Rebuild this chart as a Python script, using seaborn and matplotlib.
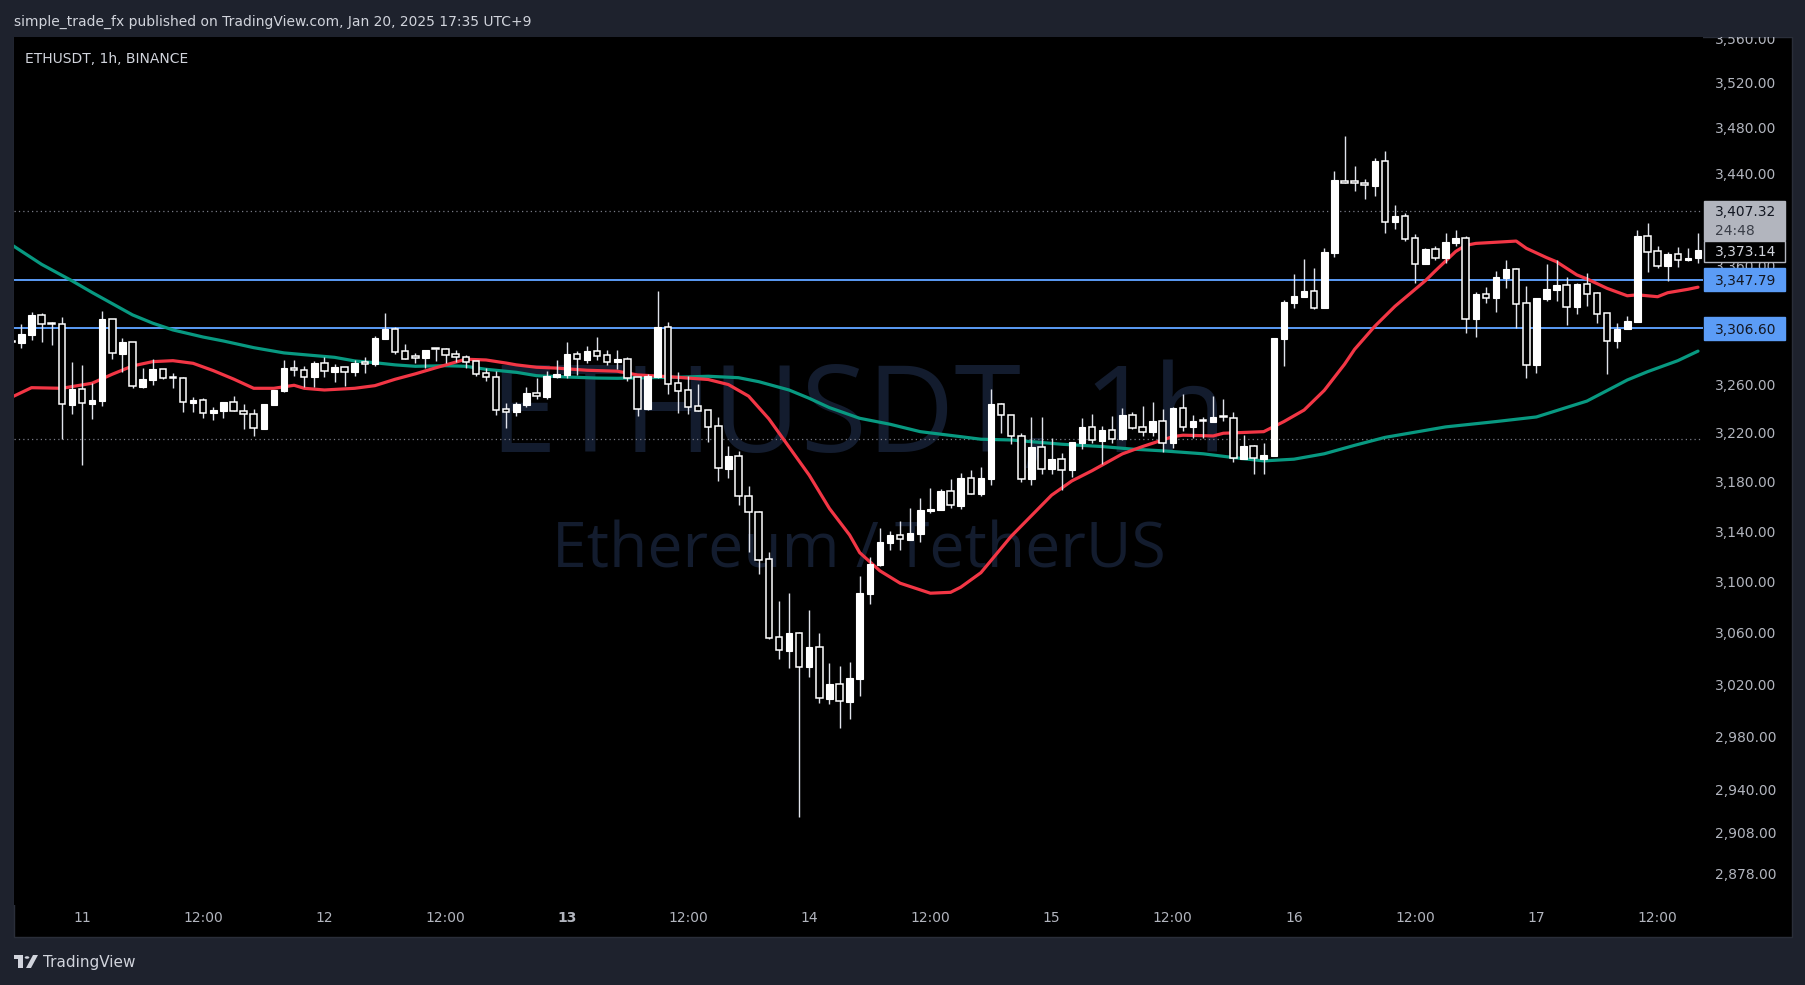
import numpy as np
import matplotlib
matplotlib.use("Agg")
import matplotlib.pyplot as plt
import matplotlib.transforms as mtrans
from matplotlib.patches import Rectangle, Polygon, Circle
from matplotlib.ticker import NullLocator, NullFormatter
import seaborn as sns

# ETHUSDT 1h candles, hour 0 = Jan 11 00:00
hours = np.arange(-7, 161)
opens = [3295.5, 3294.6, 3301.1, 3317.9, 3311.4, 3310.1, 3242.9, 3255.9, 3243.7, 3246.2,
         3314.3, 3285.4, 3295.0, 3257.6, 3263.7, 3272.3, 3265.5, 3264.8, 3244.6, 3246.6,
         3235.9, 3238.0, 3244.9, 3237.5, 3235.3, 3223.2, 3242.9, 3254.5, 3273.4, 3271.5,
         3266.1, 3277.3, 3270.3, 3274.0, 3270.3, 3277.3, 3276.8, 3298.0, 3306.1, 3287.4,
         3282.0, 3282.0, 3289.1, 3289.1, 3285.1, 3282.3, 3279.1, 3269.2, 3265.7, 3239.1,
         3237.2, 3242.7, 3252.6, 3249.3, 3266.1, 3267.6, 3285.1, 3280.1, 3287.4, 3284.3,
         3278.7, 3280.7, 3265.7, 3239.6, 3266.1, 3307.8, 3260.9, 3255.1, 3241.6, 3238.3,
         3225.1, 3190.5, 3200.6, 3168.1, 3155.2, 3117.7, 3056.3, 3045.9, 3059.4, 3033.5,
         3048.5, 3008.8, 3020.1, 3006.5, 3024.2, 3090.5, 3113.4, 3130.9, 3136.8, 3133.2,
         3138.0, 3156.5, 3157.3, 3172.2, 3160.5, 3182.9, 3170.2, 3182.4, 3243.3, 3234.4,
         3216.9, 3182.4, 3208.2, 3190.5, 3198.4, 3189.5, 3211.7, 3224.6, 3213.3, 3222.1,
         3214.5, 3234.4, 3224.6, 3220.5, 3229.5, 3211.7, 3240.2, 3224.8, 3229.5, 3228.9,
         3232.8, 3231.7, 3198.4, 3208.8, 3198.6, 3201.1, 3298.0, 3328.3, 3333.4, 3338.0,
         3324.1, 3371.0, 3433.1, 3433.1, 3431.3, 3429.0, 3450.7, 3397.7, 3402.4, 3383.6,
         3361.6, 3374.1, 3366.8, 3379.6, 3383.6, 3314.5, 3335.7, 3332.3, 3349.3, 3357.1,
         3328.1, 3276.0, 3331.4, 3339.1, 3343.4, 3324.7, 3344.2, 3336.5, 3319.6, 3296.3,
         3306.1, 3312.3, 3385.3, 3372.5, 3359.9, 3369.9, 3365.0, 3366.3]
highs = [3297.0, 3310.3, 3320.5, 3319.9, 3312.3, 3316.2, 3278.7, 3276.0, 3260.7, 3321.3,
         3314.5, 3298.3, 3295.0, 3273.7, 3280.7, 3272.3, 3269.0, 3266.1, 3249.5, 3248.2,
         3241.3, 3244.9, 3250.1, 3243.7, 3239.4, 3243.5, 3255.1, 3280.1, 3280.1, 3275.1,
         3279.3, 3282.9, 3276.8, 3274.5, 3280.1, 3282.6, 3300.3, 3319.3, 3307.8, 3293.5,
         3286.0, 3288.5, 3289.3, 3290.2, 3288.5, 3284.3, 3279.5, 3273.2, 3270.9, 3244.1,
         3245.2, 3257.6, 3265.0, 3270.9, 3280.1, 3295.2, 3287.4, 3291.8, 3299.4, 3288.5,
         3288.5, 3282.6, 3265.7, 3268.4, 3338.2, 3311.8, 3270.1, 3266.7, 3260.1, 3238.3,
         3232.8, 3209.0, 3205.0, 3176.4, 3156.3, 3123.7, 3084.7, 3090.8, 3060.2, 3077.6,
         3059.6, 3036.4, 3034.0, 3037.2, 3104.2, 3119.2, 3142.4, 3140.2, 3148.2, 3158.4,
         3166.5, 3174.6, 3173.8, 3182.1, 3186.7, 3189.5, 3192.2, 3255.9, 3244.1, 3234.6,
         3219.4, 3232.8, 3232.8, 3215.3, 3203.6, 3212.3, 3232.0, 3235.3, 3225.4, 3233.8,
         3240.2, 3237.0, 3241.9, 3245.2, 3239.4, 3241.3, 3251.8, 3234.4, 3233.0, 3250.1,
         3247.6, 3237.0, 3218.0, 3209.8, 3211.5, 3298.3, 3330.3, 3352.8, 3365.6, 3357.9,
         3375.0, 3441.9, 3473.0, 3446.3, 3434.9, 3453.3, 3459.5, 3412.2, 3405.0, 3387.1,
         3375.0, 3377.0, 3388.0, 3390.5, 3385.3, 3337.4, 3341.7, 3355.4, 3364.8, 3357.9,
         3342.5, 3332.5, 3361.6, 3364.8, 3350.2, 3345.0, 3353.7, 3337.4, 3320.0, 3311.2,
         3317.1, 3390.5, 3396.6, 3376.7, 3371.6, 3375.8, 3375.0, 3388.0]
lows = [3294.0, 3290.4, 3296.9, 3295.5, 3292.7, 3214.5, 3235.3, 3193.5, 3231.1, 3241.9,
        3280.9, 3270.3, 3257.0, 3257.0, 3259.3, 3264.0, 3257.0, 3236.7, 3237.2, 3231.7,
        3230.1, 3232.2, 3237.7, 3222.7, 3217.4, 3223.2, 3242.9, 3253.7, 3267.0, 3257.8,
        3257.8, 3266.1, 3261.5, 3258.4, 3267.0, 3269.5, 3275.3, 3298.0, 3285.1, 3281.2,
        3277.6, 3273.7, 3279.3, 3277.6, 3278.7, 3273.7, 3267.0, 3262.6, 3234.4, 3224.0,
        3233.8, 3241.3, 3247.6, 3247.4, 3265.3, 3265.3, 3267.6, 3277.8, 3280.1, 3276.0,
        3272.6, 3262.8, 3233.8, 3238.6, 3265.3, 3252.0, 3236.4, 3235.6, 3238.0, 3212.5,
        3180.7, 3183.2, 3161.1, 3123.7, 3106.3, 3055.0, 3039.5, 3032.7, 2919.8, 3025.8,
        3005.3, 3004.7, 2986.3, 2993.1, 3011.1, 3082.4, 3112.4, 3125.3, 3125.3, 3133.2,
        3131.6, 3154.9, 3157.3, 3158.9, 3157.8, 3170.2, 3168.6, 3177.5, 3219.9, 3210.4,
        3180.0, 3177.5, 3186.4, 3186.4, 3173.2, 3184.0, 3206.5, 3211.7, 3194.3, 3211.7,
        3213.7, 3222.7, 3217.4, 3217.4, 3204.4, 3207.5, 3221.5, 3215.3, 3215.3, 3228.9,
        3229.5, 3196.2, 3198.4, 3185.9, 3186.4, 3201.1, 3275.3, 3324.1, 3333.4, 3323.2,
        3324.1, 3367.6, 3431.0, 3424.4, 3417.5, 3420.1, 3388.1, 3391.5, 3381.3, 3345.3,
        3361.6, 3364.8, 3362.0, 3376.7, 3303.0, 3299.4, 3328.1, 3320.5, 3340.8, 3307.0,
        3265.3, 3269.2, 3329.7, 3329.7, 3309.7, 3318.8, 3325.5, 3311.2, 3268.4, 3290.2,
        3306.1, 3312.3, 3354.5, 3358.2, 3347.0, 3359.0, 3364.2, 3362.2]
closes = [3295.0, 3301.9, 3317.9, 3310.6, 3310.1, 3243.3, 3255.9, 3244.1, 3246.8, 3314.5,
          3285.7, 3295.2, 3258.7, 3264.2, 3272.6, 3265.3, 3265.0, 3244.9, 3246.8, 3235.9,
          3238.6, 3244.9, 3237.7, 3235.0, 3223.5, 3243.5, 3255.1, 3273.4, 3271.5, 3266.1,
          3277.3, 3270.7, 3274.0, 3270.3, 3277.3, 3277.0, 3298.6, 3306.1, 3287.1, 3281.2,
          3281.8, 3288.5, 3289.0, 3284.5, 3282.3, 3278.7, 3268.7, 3265.7, 3238.8, 3237.2,
          3243.5, 3252.6, 3249.9, 3266.7, 3268.4, 3285.1, 3280.7, 3287.7, 3283.7, 3278.7,
          3280.9, 3265.3, 3239.6, 3266.7, 3307.8, 3260.4, 3254.5, 3241.3, 3238.0, 3224.8,
          3190.8, 3200.9, 3168.1, 3155.2, 3117.3, 3056.0, 3046.2, 3059.4, 3033.5, 3048.5,
          3009.1, 3020.1, 3006.8, 3024.5, 3090.8, 3113.9, 3131.4, 3137.0, 3133.6, 3138.6,
          3157.0, 3157.6, 3172.4, 3160.8, 3182.9, 3170.2, 3182.9, 3243.5, 3234.2, 3216.9,
          3182.4, 3208.2, 3190.5, 3198.4, 3189.7, 3212.3, 3224.6, 3213.7, 3222.1, 3214.7,
          3234.4, 3224.0, 3220.7, 3229.5, 3211.7, 3240.2, 3224.8, 3229.5, 3229.2, 3232.8,
          3232.6, 3199.0, 3208.8, 3199.0, 3201.4, 3298.3, 3328.7, 3333.7, 3338.0, 3324.1,
          3371.6, 3434.0, 3431.6, 3431.1, 3429.4, 3450.7, 3397.7, 3402.7, 3383.0, 3361.6,
          3374.1, 3366.8, 3380.2, 3383.6, 3314.8, 3335.7, 3332.5, 3350.2, 3357.1, 3327.5,
          3276.2, 3332.3, 3339.9, 3343.4, 3324.9, 3344.2, 3335.9, 3319.0, 3296.3, 3306.4,
          3312.9, 3385.3, 3371.9, 3359.9, 3369.9, 3365.0, 3366.3, 3373.14]

# moving averages
fast_ma_hours = [-7, -5, -2, 1, 3, 5, 7, 9, 11, 13, 15, 17, 19, 21, 22, 24, 27, 29, 31, 33,
                 35, 37, 38, 40, 42, 43, 45, 47, 50, 53, 55, 58, 62, 64, 66, 68, 70, 72, 74, 76,
                 77, 79, 81, 84, 86, 87, 89, 92, 96, 98, 100, 103, 105, 108, 109, 112, 113, 117,
                 119, 121, 123, 125, 126, 128, 130, 133, 134, 136, 137, 138, 142, 143, 145, 146,
                 148, 149, 151, 153, 154, 156, 157, 159, 160]
fast_ma = [3249.0, 3257.0, 3256.5, 3260.7, 3268.2, 3275.1, 3278.7, 3279.5, 3277.3, 3271.2,
           3264.2, 3256.5, 3256.5, 3259.0, 3256.5, 3255.1, 3256.5, 3258.7, 3264.0, 3268.5,
           3273.5, 3278.3, 3280.7, 3280.1, 3277.5, 3276.0, 3274.0, 3273.3, 3271.5, 3270.7,
           3267.6, 3266.2, 3263.8, 3259.6, 3250.0, 3231.3, 3208.2, 3185.2, 3158.3, 3137.0,
           3122.9, 3108.5, 3098.7, 3090.8, 3091.5, 3095.5, 3107.0, 3136.0, 3169.0, 3180.5,
           3188.8, 3202.5, 3208.5, 3216.6, 3217.8, 3217.2, 3219.4, 3220.7, 3229.0, 3238.5,
           3254.8, 3276.5, 3289.0, 3308.4, 3325.3, 3347.0, 3355.5, 3372.0, 3377.3, 3379.0,
           3381.0, 3374.8, 3366.8, 3363.2, 3352.0, 3348.6, 3340.5, 3334.2, 3335.0, 3333.4,
           3336.8, 3339.7, 3341.5]
slow_ma_hours = [-7, -4, -1, 1, 3, 5, 7, 9, 12, 14, 17, 20, 22, 25, 27, 29, 31, 33, 36, 38,
                 40, 43, 45, 48, 51, 53, 56, 59, 62, 65, 67, 70, 72, 74, 77, 80, 83, 87, 89, 92,
                 94, 97, 101, 104, 107, 111, 114, 117, 120, 123, 126, 129, 135, 140, 144, 149,
                 152, 153, 155, 158, 160]
slow_ma = [3378.0, 3361.0, 3347.0, 3337.0, 3327.5, 3318.0, 3311.0, 3305.3, 3299.3, 3296.0,
           3290.4, 3286.0, 3284.5, 3282.3, 3279.3, 3277.8, 3276.0, 3274.8, 3275.3, 3274.8,
           3272.3, 3269.8, 3267.0, 3265.9, 3265.0, 3264.8, 3265.3, 3265.7, 3266.5, 3265.3,
           3262.0, 3255.1, 3248.2, 3240.5, 3231.7, 3226.8, 3220.7, 3216.6, 3214.5, 3213.9,
           3212.5, 3210.4, 3208.5, 3206.4, 3205.0, 3202.6, 3199.5, 3196.8, 3198.2, 3202.6,
           3209.5, 3216.0, 3224.6, 3229.0, 3232.8, 3245.9, 3259.0, 3263.4, 3270.3, 3279.5,
           3287.5]

level_lines = [3347.79, 3306.60]
dotted_levels = [3407.32, 3214.6]
last_price = 3373.14
price_ticks = [2878, 2908, 2940, 2980, 3020, 3060, 3100, 3140, 3180, 3220, 3260,
               3360, 3440, 3480, 3520, 3560]
time_tick_hours = [0, 12, 24, 36, 48, 60, 72, 84, 96, 108, 120, 132, 144, 156]
time_tick_labels = ["11", "12:00", "12", "12:00", "13", "12:00", "14", "12:00",
                    "15", "12:00", "16", "12:00", "17", "12:00"]

BG = "#1e222d"
TXT = "#b2b5be"
RED = "#f23645"
GREEN = "#089981"
BLUE = "#5b9cf6"
WM = "#131c2e"

sns.set_theme(style="dark", rc={"axes.facecolor": "black", "figure.facecolor": BG})
plt.rcParams["font.family"] = ["DejaVu Sans"]

W, H = 1806, 985
fig = plt.figure(figsize=(W / 100, H / 100), dpi=100)


def fx(px):
    return px / W


def fy(py):
    return 1 - py / H


# black chart panel
fig.add_artist(Rectangle((fx(14), fy(937)), fx(1792) - fx(14), fy(37) - fy(937),
                         transform=fig.transFigure, facecolor="black",
                         edgecolor="#2a2e39", lw=1, zorder=-1))

ax = fig.add_axes([fx(14), fy(905), fx(1703) - fx(14), fy(37) - fy(905)])
ax.set_facecolor("black")
for s in ax.spines.values():
    s.set_visible(False)
ax.grid(False)
ax.set_yscale("log")
ymin, ymax = 2854.7, 3561.5
ax.set_xlim(-6.733, 160.495)
ax.set_ylim(ymin, ymax)

# watermark
ax.text(0.5, 0.522, "ETHUSDT, 1h", transform=ax.transAxes, ha="center", va="baseline",
        fontsize=87, family="Open Sans", color=WM, zorder=0.2)
ax.text(0.5, 0.389, "Ethereum / TetherUS", transform=ax.transAxes, ha="center",
        va="baseline", fontsize=45, family="Open Sans", color=WM, zorder=0.2)

for p in dotted_levels:
    ax.axhline(p, color="#787b86", lw=0.9, ls=(0, (1, 2.5)), zorder=1)
for p in level_lines:
    ax.axhline(p, color=BLUE, lw=1.4, zorder=2)

sns.lineplot(x=slow_ma_hours, y=slow_ma, ax=ax, color=GREEN, linewidth=2.3,
             zorder=3, legend=False)
sns.lineplot(x=fast_ma_hours, y=fast_ma, ax=ax, color=RED, linewidth=2.3,
             zorder=3, legend=False)

# candles
o = np.array(opens)
h = np.array(highs)
l = np.array(lows)
c = np.array(closes)
up = c >= o
body_lo = np.minimum(o, c)
body_h = np.maximum(np.abs(c - o), 1.3)
ax.vlines(hours, l, h, color="#e0e3eb", lw=1.0, zorder=4)
ax.bar(hours[up], body_h[up], bottom=body_lo[up], width=0.64, color="white",
       edgecolor="white", lw=0.8, zorder=5)
ax.bar(hours[~up], body_h[~up], bottom=body_lo[~up], width=0.64, color="black",
       edgecolor="white", lw=1.1, zorder=5)

ax.set_xlabel("")
ax.set_ylabel("")

# axes ticks
ax.yaxis.tick_right()
ax.yaxis.set_minor_locator(NullLocator())
ax.yaxis.set_minor_formatter(NullFormatter())
ax.set_yticks(price_ticks)
ax.set_yticklabels([f"{v:,.2f}" for v in price_ticks])
ax.tick_params(axis="y", length=0, pad=8.6, labelsize=10, labelcolor=TXT)
ax.set_xticks(time_tick_hours)
ax.set_xticklabels(time_tick_labels)
ax.tick_params(axis="x", length=0, pad=4.5, labelsize=10, labelcolor=TXT)
for lbl in ax.get_xticklabels():
    if lbl.get_text() == "13":
        lbl.set_fontweight("bold")
ax.set_ylim(ymin, ymax)

# price tags on the scale
ppl = (fy(37) - fy(905)) * H / np.log(ymax / ymin)
blend = mtrans.blended_transform_factory(ax.transAxes, ax.transData)
axw = 1703 - 14


def shift(p, px):
    return p * np.exp(-px / ppl)


def tag(p, txt, face, tc, top=11.5, bot=11.5, edge=None):
    y_top = shift(p, -top)
    y_bot = shift(p, bot)
    ax.add_patch(Rectangle((1 + 1 / axw, y_bot), 81 / axw, y_top - y_bot, transform=blend,
                           facecolor=face, edgecolor=edge or face, lw=1,
                           clip_on=False, zorder=6))
    ax.text(1 + 12 / axw, p, txt, transform=blend, ha="left", va="center_baseline",
            fontsize=10, color=tc, zorder=7, clip_on=False)


tag(dotted_levels[0], f"{dotted_levels[0]:,.2f}", "#b2b5be", "#131722", top=10, bot=29)
ax.text(1 + 12 / axw, shift(dotted_levels[0], 19), "24:48", transform=blend, ha="left",
        va="center_baseline", fontsize=10, color="#3a3e48", zorder=7, clip_on=False)
tag(last_price, f"{last_price:,.2f}", "black", "#d1d4dc", top=9, bot=11.5, edge="#b2b5be")
for p in level_lines:
    tag(p, f"{p:,.2f}", BLUE, "#131722")

# header band
fig.add_artist(Rectangle((0, fy(37)), 1, 1 - fy(37), transform=fig.transFigure,
                         facecolor=BG, edgecolor="none", zorder=5))
fig.text(fx(14), fy(22), "simple_trade_fx published on TradingView.com, Jan 20, 2025 17:35 UTC+9",
         ha="left", va="center", fontsize=10, color="#d1d4dc", zorder=6)
fig.text(fx(25), fy(59), "ETHUSDT, 1h, BINANCE", ha="left", va="center", fontsize=10,
         color="#d1d4dc", zorder=6)

# TradingView logo
logo = "#d1d4dc"
fig.add_artist(Rectangle((fx(14), fy(959)), fx(9), fy(955) - fy(959), transform=fig.transFigure,
                         facecolor=logo, edgecolor="none", zorder=6))
fig.add_artist(Rectangle((fx(18), fy(968)), fx(5), fy(959) - fy(968), transform=fig.transFigure,
                         facecolor=logo, edgecolor="none", zorder=6))
fig.add_artist(Circle((fx(27), fy(957.5)), 2.3 / W, transform=fig.transFigure,
                      facecolor=logo, edgecolor="none", zorder=6))
fig.add_artist(Polygon([(fx(26), fy(968)), (fx(31), fy(968)), (fx(38), fy(955)), (fx(33), fy(955))],
                       closed=True, transform=fig.transFigure, facecolor=logo,
                       edgecolor="none", zorder=6))
fig.text(fx(43), fy(962), "TradingView", ha="left", va="center", fontsize=11,
         color=logo, zorder=6)

fig.savefig("out.png", dpi=100, facecolor=BG)
